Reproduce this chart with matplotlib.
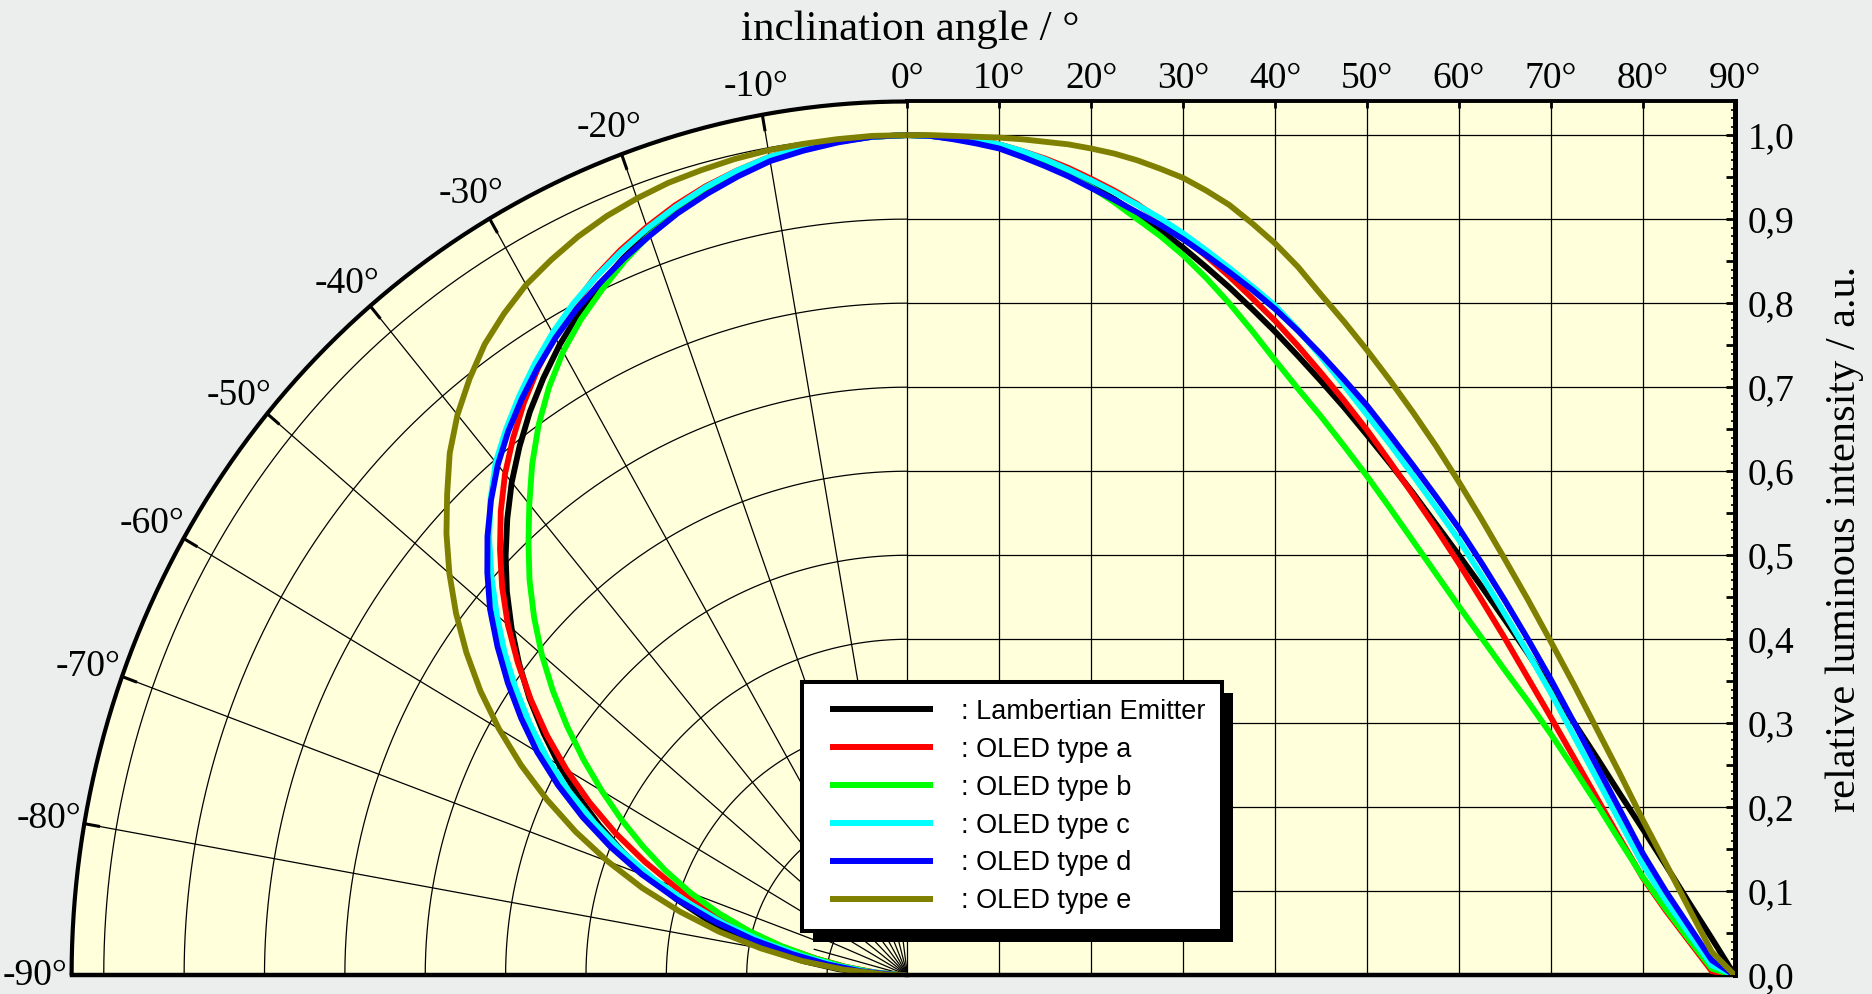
"""Angular emission of OLED types vs. a Lambertian emitter.

Left half: polar plot (-90° .. 0°), right half: the same intensities on a
cartesian angle axis (0° .. 90°). Writes out.png.
"""
import numpy as np
import matplotlib
matplotlib.use("Agg")
import matplotlib.pyplot as plt
from matplotlib.legend_handler import HandlerLine2D
from matplotlib.lines import Line2D
from matplotlib.patches import Rectangle
from matplotlib.ticker import FixedLocator, MultipleLocator

plt.rcParams.update({"font.family": "serif",
                     "font.serif": ["Liberation Serif", "DejaVu Serif"]})

# inclination angle (deg) and relative luminous intensity per emitter
ANGLES = [0, 2.5, 5, 7.5, 10, 12.5, 15, 17.5, 20, 22.5, 25, 27.5, 30, 32.5, 35,
          37.5, 40, 42.5, 45, 47.5, 50, 52.5, 55, 57.5, 60, 62.5, 65, 67.5, 70,
          72.5, 75, 77.5, 80, 82.5, 85, 87.5, 90]
LAMBERT = [1.000, 0.999, 0.996, 0.991, 0.985, 0.976, 0.966, 0.954, 0.940, 0.924,
           0.906, 0.887, 0.866, 0.843, 0.819, 0.793, 0.766, 0.737, 0.707, 0.676,
           0.643, 0.609, 0.574, 0.537, 0.500, 0.462, 0.423, 0.383, 0.342, 0.301,
           0.259, 0.216, 0.174, 0.131, 0.087, 0.044, 0.0]
OLED_A = [1.000, 0.999, 0.997, 0.994, 0.989, 0.981, 0.972, 0.961, 0.948, 0.934,
          0.918, 0.899, 0.878, 0.856, 0.832, 0.806, 0.779, 0.749, 0.717, 0.684,
          0.649, 0.611, 0.572, 0.532, 0.490, 0.446, 0.401, 0.354, 0.307, 0.259,
          0.211, 0.163, 0.116, 0.077, 0.041, 0.005, 0.0]
OLED_B = [1.000, 0.999, 0.996, 0.991, 0.985, 0.976, 0.965, 0.952, 0.938, 0.920,
          0.900, 0.880, 0.857, 0.830, 0.800, 0.767, 0.732, 0.698, 0.665, 0.630,
          0.594, 0.556, 0.517, 0.478, 0.439, 0.401, 0.363, 0.326, 0.287, 0.246,
          0.204, 0.160, 0.117, 0.079, 0.043, 0.008, 0.0]
OLED_C = [1.000, 0.999, 0.997, 0.994, 0.989, 0.981, 0.971, 0.959, 0.946, 0.932,
          0.917, 0.901, 0.883, 0.863, 0.842, 0.820, 0.797, 0.768, 0.736, 0.702,
          0.667, 0.632, 0.595, 0.557, 0.518, 0.475, 0.430, 0.384, 0.336, 0.285,
          0.234, 0.183, 0.132, 0.089, 0.050, 0.012, 0.0]
OLED_D = [1.000, 0.999, 0.995, 0.990, 0.984, 0.974, 0.963, 0.951, 0.937, 0.923,
          0.908, 0.893, 0.876, 0.857, 0.837, 0.816, 0.793, 0.767, 0.739, 0.709,
          0.678, 0.643, 0.607, 0.570, 0.532, 0.490, 0.446, 0.400, 0.352, 0.301,
          0.249, 0.197, 0.145, 0.100, 0.059, 0.018, 0.0]
OLED_E = [1.000, 1.000, 0.999, 0.998, 0.997, 0.995, 0.992, 0.989, 0.984, 0.978,
          0.970, 0.960, 0.949, 0.934, 0.917, 0.895, 0.871, 0.843, 0.810, 0.778,
          0.744, 0.708, 0.670, 0.630, 0.587, 0.542, 0.495, 0.447, 0.397, 0.346,
          0.293, 0.240, 0.185, 0.133, 0.080, 0.028, 0.0]

SERIES = [LAMBERT, OLED_A, OLED_B, OLED_C, OLED_D, OLED_E]
NAMES = [": Lambertian Emitter", ": OLED type a", ": OLED type b",
         ": OLED type c", ": OLED type d", ": OLED type e"]
COLORS = ["#000000", "#FF0000", "#00FF00", "#00FFFF", "#0000FF", "#808000"]

ANGLE_TICKS = [0, 10, 20, 30, 40, 50, 60, 70, 80, 90]
ANGLE_LABELS = ["0°", "10°", "20°", "30°", "40°", "50°", "60°", "70°", "80°", "90°"]
POLAR_TICKS = [10, 20, 30, 40, 50, 60, 70, 80, 90]
POLAR_LABELS = ["-10°", "-20°", "-30°", "-40°", "-50°", "-60°", "-70°", "-80°", "-90°"]
INT_TICKS = [0.0, 0.1, 0.2, 0.3, 0.4, 0.5, 0.6, 0.7, 0.8, 0.9, 1.0]
INT_LABELS = ["0,0", "0,1", "0,2", "0,3", "0,4", "0,5", "0,6", "0,7", "0,8", "0,9", "1,0"]

BG = "#ECEEED"
PAPER = "#FFFFDC"
RMAX = 1.04
W, H = 1872, 994

fig = plt.figure(figsize=(W / 100, H / 100), dpi=100)
fig.patch.set_facecolor(BG)
axp = fig.add_axes([0.03825, 0.01871, 0.4465, 0.8792])
axc = fig.add_axes([0.48472, 0.01871, 0.44199, 0.8792])
for ax in (axp, axc):
    ax.set_ylim(0, RMAX)
axp.set_xlim(-RMAX, 0)
axc.set_xlim(0, 90)

# ---------------------------------------------------------------- polar half --
axp.axis("off")
t = np.radians(np.linspace(0, 90, 361))
axp.fill(np.r_[0, -RMAX * np.sin(t)], np.r_[0, RMAX * np.cos(t)],
         color=PAPER, lw=0, zorder=0)
for r in INT_TICKS[1:]:
    axp.plot(-r * np.sin(t), r * np.cos(t), color="k", lw=0.9, zorder=1)
for a in POLAR_TICKS[:-1]:
    s, c = np.sin(np.radians(a)), np.cos(np.radians(a))
    axp.plot([-0.12 * s, -RMAX * s], [0.12 * c, RMAX * c], color="k", lw=0.9, zorder=1)
    axp.plot([-(RMAX - 0.018) * s, -RMAX * s], [(RMAX - 0.018) * c, RMAX * c],
             color="k", lw=2.2, zorder=2)
# dense fan of short spokes around the origin
for a in np.arange(7.5, 90, 7.5):
    s, c = np.sin(np.radians(a)), np.cos(np.radians(a))
    axp.plot([0, -0.12 * s], [0, 0.12 * c], color="k", lw=0.9, zorder=1)
axp.plot(-RMAX * np.sin(t), RMAX * np.cos(t), color="k", lw=3, zorder=4,
         solid_capstyle="butt", clip_on=False)
axp.plot([-RMAX, 0], [0, 0], color="k", lw=3.2, zorder=4, clip_on=False)

th = np.radians(ANGLES)
for vals, col in zip(SERIES, COLORS):
    v = np.asarray(vals)
    axp.plot(-v * np.sin(th), v * np.cos(th), color=col, lw=4.2, zorder=3,
             solid_capstyle="butt", solid_joinstyle="round")

# angle labels sit just outside the rim
for a, lab in zip(POLAR_TICKS, POLAR_LABELS):
    axp.text(-1.085 * np.sin(np.radians(a)), 1.074 * np.cos(np.radians(a)), lab,
             ha="center", va="center", fontsize=27, clip_on=False)

# ------------------------------------------------------------ cartesian half --
axc.set_facecolor(PAPER)
for x in ANGLE_TICKS[:-1]:
    axc.axvline(x, color="k", lw=0.9, zorder=1, clip_on=False)
for y in INT_TICKS[1:]:
    axc.axhline(y, color="k", lw=0.9, zorder=1)
for vals, col in zip(SERIES, COLORS):
    axc.plot(ANGLES, vals, color=col, lw=4.2, zorder=3, solid_capstyle="butt",
             solid_joinstyle="round")

axc.xaxis.tick_top()
axc.set_xticks(ANGLE_TICKS)
axc.set_xticklabels(ANGLE_LABELS)
axc.tick_params(axis="x", direction="in", top=True, bottom=False, labeltop=True,
                labelbottom=False, length=5, width=2, labelsize=27, pad=4)

axc.yaxis.tick_right()
axc.yaxis.set_major_locator(FixedLocator(np.arange(0, 1.001, 0.05)))
axc.set_yticklabels([INT_LABELS[i // 2] if i % 2 == 0 else "" for i in range(21)])
axc.yaxis.set_minor_locator(MultipleLocator(0.01))
axc.tick_params(axis="y", which="both", direction="in", left=False, right=True,
                labelleft=False, labelright=True, labelsize=27, pad=9)
axc.tick_params(axis="y", which="major", length=6.5, width=2)
axc.tick_params(axis="y", which="minor", length=3, width=1.2)

axc.spines["left"].set_visible(False)
axc.spines["bottom"].set_linewidth(3.2)
axc.spines["top"].set_linewidth(2.8)
axc.spines["right"].set_linewidth(3.6)

fig.text(0.486, 1 - 40 / H, "inclination angle / °", ha="center", va="baseline",
         fontsize=31)
fig.text(0.9854, 0.4582, "relative luminous intensity / a.u.", rotation=90,
         ha="center", va="center", fontsize=30.5)

# ------------------------------------------------------------------ legend ---
handles = [Line2D([], [], color=c, lw=4.3, solid_capstyle="butt") for c in COLORS]
leg = fig.legend(handles, NAMES, loc="upper left",
                 bbox_to_anchor=(802 / W, 1 - 682 / H), borderaxespad=0,
                 prop={"family": "Liberation Sans", "size": 19.5},
                 frameon=True, fancybox=False, framealpha=1, edgecolor="black",
                 borderpad=0.62, labelspacing=0.44, handlelength=4.2,
                 handletextpad=1.05,
                 handler_map={Line2D: HandlerLine2D(xpad=0.42)})
leg.get_frame().set_linewidth(2.9)
leg.set_zorder(6)

fig.canvas.draw()
bb = leg.get_window_extent()
fig.add_artist(Rectangle(((bb.x0 + 11) / W, (bb.y0 - 11) / H), bb.width / W,
                         bb.height / H, transform=fig.transFigure,
                         facecolor="black", edgecolor="none", zorder=5))

fig.savefig("out.png", dpi=100, facecolor=fig.get_facecolor())
